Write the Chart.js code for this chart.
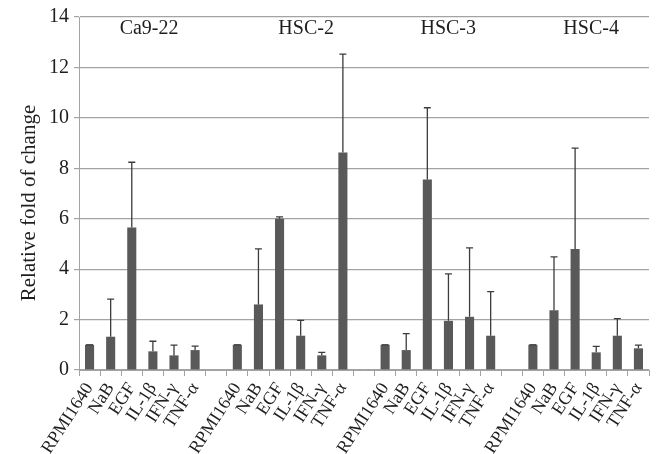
<!DOCTYPE html>
<html lang="en">
<head>
    <meta charset="UTF-8">
    <title>Relative fold of change</title>
    <script src="https://cdn.jsdelivr.net/npm/chart.js"></script>
    <style>
        html, body { margin: 0; padding: 0; background: #fff; }
        #wrap { width: 660px; height: 454px; position: relative; }
    </style>
</head>
<body>
    <div id="wrap"><canvas id="chart"></canvas></div>

    <script>
        // data
        const treatments = ['RPMI1640', 'NaB', 'EGF', 'IL-1β', 'IFN-γ', 'TNF-α'];
        const cellLines = ['Ca9-22', 'HSC-2', 'HSC-3', 'HSC-4'];

        const ca922 = [1.0, 1.32, 5.65, 0.74, 0.58, 0.79];
        const ca922Err = [0, 1.49, 2.59, 0.40, 0.41, 0.16];
        const hsc2 = [1.0, 2.60, 6.00, 1.36, 0.58, 8.63];
        const hsc2Err = [0, 2.20, 0.07, 0.61, 0.12, 3.90];
        const hsc3 = [1.0, 0.79, 7.56, 1.95, 2.11, 1.36];
        const hsc3Err = [0, 0.65, 2.84, 1.86, 2.73, 1.75];
        const hsc4 = [1.0, 2.37, 4.80, 0.70, 1.36, 0.86];
        const hsc4Err = [0, 2.12, 4.00, 0.24, 0.68, 0.13];

        const yTicks = [0, 2, 4, 6, 8, 10, 12, 14];
        const yTitle = 'Relative fold of change';

        // build flat category axis with an empty slot between cell lines
        const groups = [ca922, hsc2, hsc3, hsc4];
        const groupErr = [ca922Err, hsc2Err, hsc3Err, hsc4Err];
        const labels = [];
        const values = [];
        const errors = [];
        groups.forEach((g, gi) => {
            if (gi > 0) {
                labels.push('');
                values.push(null);
                errors.push(null);
            }
            treatments.forEach((t, i) => {
                labels.push(t);
                values.push(g[i]);
                errors.push(groupErr[gi][i]);
            });
        });

        const serif = '"Liberation Serif", "Times New Roman", serif';
        const gridGray = '#a3a3a3';
        const ink = '#1e1e1e';

        // upper error bars
        const errorBars = {
            id: 'errorBars',
            afterDatasetsDraw(chart) {
                const ctx = chart.ctx;
                const y = chart.scales.y;
                const meta = chart.getDatasetMeta(0);
                ctx.save();
                ctx.strokeStyle = '#3c3c3c';
                ctx.lineWidth = 1.3;
                meta.data.forEach((bar, i) => {
                    if (values[i] === null) return;
                    const top = y.getPixelForValue(values[i] + errors[i]);
                    const base = y.getPixelForValue(values[i]);
                    ctx.beginPath();
                    ctx.moveTo(bar.x, base);
                    ctx.lineTo(bar.x, top);
                    ctx.moveTo(bar.x - 3.5, top);
                    ctx.lineTo(bar.x + 3.5, top);
                    ctx.stroke();
                });
                ctx.restore();
            }
        };

        // cell line names along the top + y title
        const annotations = {
            id: 'annotations',
            afterDraw(chart) {
                const ctx = chart.ctx;
                const x = chart.scales.x;
                const spots = [2.82, 10.26, 16.99, 23.76];
                ctx.save();
                ctx.fillStyle = ink;
                ctx.font = '20px ' + serif;
                ctx.textAlign = 'center';
                ctx.textBaseline = 'alphabetic';
                cellLines.forEach((name, i) => {
                    ctx.fillText(name, x.getPixelForValue(spots[i]), 34);
                });

                ctx.font = '21px ' + serif;
                ctx.textBaseline = 'middle';
                ctx.translate(29, 203);
                ctx.rotate(-Math.PI / 2);
                ctx.fillText(yTitle, 0, 0);
                ctx.restore();
            }
        };

        new Chart(document.getElementById('chart'), {
            type: 'bar',
            data: {
                labels: labels,
                datasets: [{
                    data: values,
                    backgroundColor: '#595959',
                    barPercentage: 0.43,
                    categoryPercentage: 1.0
                }]
            },
            options: {
                responsive: true,
                maintainAspectRatio: false,
                animation: false,
                layout: { padding: { left: 0, right: 11, top: 16, bottom: 0 } },
                plugins: {
                    legend: { display: false },
                    tooltip: { enabled: false }
                },
                scales: {
                    x: {
                        grid: {
                            offset: true,
                            drawOnChartArea: false,
                            drawTicks: true,
                            tickLength: 6,
                            color: gridGray
                        },
                        border: { color: gridGray, width: 1 },
                        ticks: {
                            autoSkip: false,
                            minRotation: 57,
                            maxRotation: 57,
                            padding: 3,
                            color: ink,
                            font: { family: serif, size: 18 }
                        },
                        afterFit(scale) { scale.height = 84; }
                    },
                    y: {
                        min: 0,
                        max: 14,
                        afterBuildTicks(scale) {
                            scale.ticks = yTicks.map(v => ({ value: v }));
                        },
                        grid: {
                            color: gridGray,
                            lineWidth: 1.2,
                            tickLength: 5
                        },
                        border: { color: gridGray, width: 1 },
                        ticks: {
                            padding: 5,
                            color: ink,
                            font: { family: serif, size: 20 }
                        },
                        afterFit(scale) { scale.width = 79; }
                    }
                }
            },
            plugins: [errorBars, annotations]
        });
    </script>
</body>
</html>
